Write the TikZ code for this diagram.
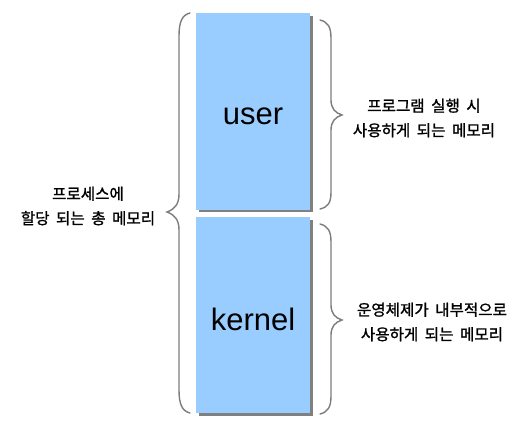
\documentclass[tikz,border=0pt]{standalone}
\usepackage{fontspec}
\setmainfont{Liberation Sans}
\newfontfamily\kr[FakeBold=1.2]{Noto Sans CJK KR}
\newcommand\krfnt{\kr\fontsize{15.6}{24.5}\selectfont\spaceskip=6.5pt plus 1pt\relax}
\begin{document}
\begin{tikzpicture}[x=1pt,y=-1pt,
  membox/.style={draw=none,fill=memblue,minimum width=114pt,inner sep=0pt},
  shadowbox/.style={fill=shadowgrey,draw=none},
  bracestyle/.style={draw=bracegrey,line width=1.4pt,line cap=round},
  boxtext/.style={font=\fontsize{31}{31}\selectfont,inner sep=0pt},
  krlabel/.style={align=center,inner sep=0pt,font=\krfnt}]
\definecolor{memblue}{RGB}{153,204,255}
\definecolor{shadowgrey}{RGB}{128,128,128}
\definecolor{bracegrey}{RGB}{125,125,125}
\useasboundingbox[fill=white] (0,0) rectangle (528,440);
% shadows
\fill[shadowbox] (199,16) rectangle (313,212);
\fill[shadowbox] (199,220) rectangle (313,416);
% boxes
\node[membox,minimum height=197pt,anchor=north west] (user) at (196,13) {};
\node[membox,minimum height=196pt,anchor=north west] (kernel) at (196,217) {};
\node[boxtext] (usertxt) at (253,116.5) {user};
\node[boxtext] (kerneltxt) at (253,319) {kernel};
% left brace
\draw[bracestyle] (190,13) .. controls (182,15) and (179,22) .. (179,36) -- (179,194)
  .. controls (179,204) and (175,209) .. (167,212)
  .. controls (175,215) and (179,220) .. (179,230) -- (179,390)
  .. controls (179,404) and (182,411) .. (190,413);
% right brace (user)
\draw[bracestyle] (320,20) .. controls (328,22) and (331,27) .. (331,38) -- (331,100)
  .. controls (331,108) and (335,113) .. (342,115)
  .. controls (335,117) and (331,122) .. (331,130) -- (331,192)
  .. controls (331,203) and (328,207) .. (320,209);
% right brace (kernel)
\draw[bracestyle] (320,224) .. controls (328,226) and (331,231) .. (331,242) -- (331,305)
  .. controls (331,313) and (335,318) .. (342,320)
  .. controls (335,322) and (331,327) .. (331,335) -- (331,396)
  .. controls (331,407) and (328,412) .. (320,414);
% labels
\node[krlabel] (lefttxt) at (88,206) {프로세스에\\할당 되는 총 메모리};
\node[krlabel] (usertxt2) at (424,118) {프로그램 실행 시\\사용하게 되는 메모리};
\node[krlabel] (kerneltxt2) at (432,322) {운영체제가 내부적으로\\사용하게 되는 메모리};
\end{tikzpicture}
\end{document}
